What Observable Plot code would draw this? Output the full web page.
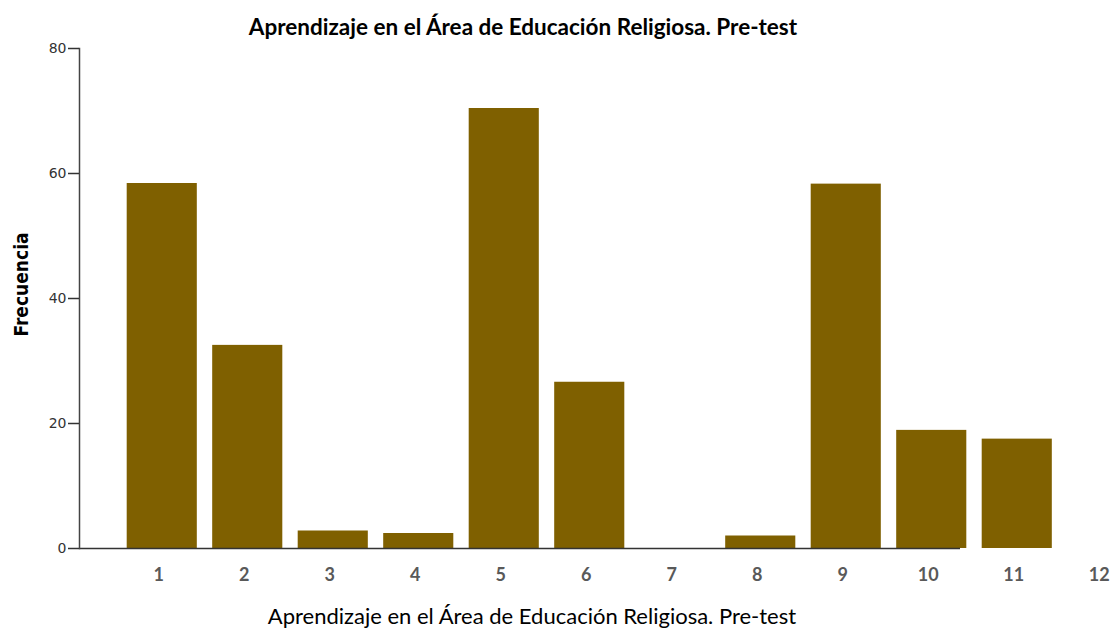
<!DOCTYPE html>
<html>
<head>
<meta charset="utf-8">
<script src="https://cdn.jsdelivr.net/npm/d3@7"></script>
<script src="https://cdn.jsdelivr.net/npm/@observablehq/plot@0.6"></script>
<style>
  body { margin: 0; background: #fff; overflow: hidden; }
  #title { width: 1046px; height: 24px; padding-top: 16px; text-align: center;
           font: bold 22.5px/22px Lato, sans-serif; color: #000; }
  #xlabel { width: 1064px; height: 25px; padding-top: 10px; text-align: center;
            font: 22px/22px Lato, sans-serif; color: #000; }
  #chart svg { display: block; overflow: visible; }
</style>
</head>
<body>
<div id="title"></div>
<div id="chart"></div>
<div id="xlabel"></div>
<script>
const titleText = "Aprendizaje en el Área de Educación Religiosa. Pre-test";
const xLabelText = "Aprendizaje en el Área de Educación Religiosa. Pre-test";
const yLabelText = "Frecuencia";
const categories = ["1","2","3","4","5","6","7","8","9","10","11","12"];
const barCategories = ["1","2","3","4","5","6","7","8","9","10","11"];
const frequencies = [58.4, 32.5, 2.8, 2.4, 70.4, 26.6, 0, 2.0, 58.3, 18.9, 17.5];
const yTicks = [0, 20, 40, 60, 80];

const data = barCategories.map((c, i) => ({cat: c, value: frequencies[i]}));

document.getElementById("title").textContent = titleText;
document.getElementById("xlabel").textContent = xLabelText;

const chart = Plot.plot({
  width: 1112,
  height: 555,
  marginTop: 8,
  marginBottom: 47,
  marginLeft: 79,
  marginRight: 152,
  style: {background: "#fff", overflow: "visible"},
  x: {type: "band", domain: categories, range: [119, 1145], paddingInner: 0.18, paddingOuter: 0.09, round: false},
  y: {domain: [0, 80]},
  marks: [
    Plot.barY(data, {x: "cat", y: "value", fill: "#7F6000"}),
    Plot.ruleY([0], {stroke: "#333", strokeWidth: 1.5}),
    Plot.frame({anchor: "left", stroke: "#444", strokeWidth: 1.5}),
    Plot.axisY({ticks: yTicks, tickSize: 11, tickPadding: 2, fontSize: 14,
                fontFamily: "DejaVu Sans", color: "#333", label: null, strokeWidth: 1.5}),
    Plot.axisX({tickSize: 0, tickPadding: 20, dx: -3.5, fontSize: 18, fontWeight: "bold",
                fontFamily: "Lato", color: "#595959", label: null}),
    Plot.text([yLabelText], {frameAnchor: "left", text: d => d, rotate: -90, dx: -58, dy: -14,
                textAnchor: "middle", lineAnchor: "middle", fontSize: 19, fontWeight: "bold",
                fontFamily: "Liberation Sans Narrow, DejaVu Sans Condensed, sans-serif", fill: "#000"})
  ]
});
document.getElementById("chart").appendChild(chart);
</script>
</body>
</html>
